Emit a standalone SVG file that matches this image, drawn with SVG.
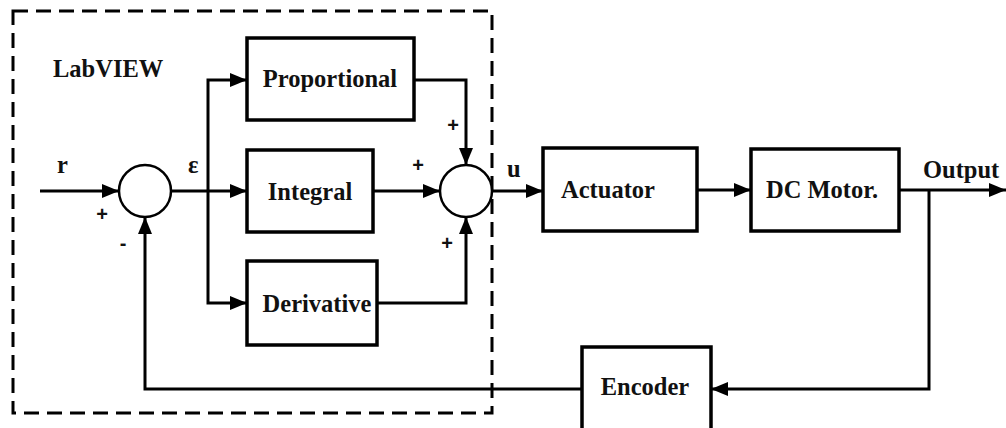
<svg xmlns="http://www.w3.org/2000/svg" width="1006" height="428" viewBox="0 0 1006 428">
<style>
.box{fill:#fff;stroke:#000;stroke-width:3.5}
.sum{fill:#fff;stroke:#000;stroke-width:2.5}
.lbl{font-weight:bold;font-size:24.5px;fill:#111}
.sgn{font-weight:bold;font-size:20px;fill:#111;text-anchor:middle}
.wire{fill:none;stroke:#000;stroke-width:3}
.arr{marker-end:url(#ah)}
</style>
<defs>
<marker id="ah" markerUnits="userSpaceOnUse" markerWidth="17" markerHeight="14" refX="17" refY="7" orient="auto">
<path d="M0,0 L17,7 L0,14 z" fill="#000"/>
</marker>
</defs>
<rect width="1006" height="428" fill="#fff"/>
<g id="labview-boundary">
<rect x="13" y="11" width="479" height="402" fill="none" stroke="#000" stroke-width="3" stroke-dasharray="15,8"/>
<text class="lbl" font-family="Liberation Serif, Times New Roman, serif" x="53" y="77">LabVIEW</text>
</g>
<g id="connectors">
<path class="wire arr" d="M40,191 H119"/>
<path class="wire arr" d="M171,191 H247"/>
<path class="wire arr" d="M208,191 V80 H247"/>
<path class="wire arr" d="M208,191 V303 H247"/>
<path class="wire arr" d="M414,80 H466 V165"/>
<path class="wire arr" d="M373,191 H440"/>
<path class="wire arr" d="M377,303 H466 V217"/>
<path class="wire arr" d="M492,191 H543"/>
<path class="wire arr" d="M697,190 H751"/>
<path class="wire arr" d="M899,190 H1006"/>
<path class="wire arr" d="M929,190 V389 H711"/>
<path class="wire arr" d="M582,389 H145 V217"/>
<g font-family="Liberation Serif, Times New Roman, serif">
<text class="lbl" x="57" y="173">r</text>
<text class="lbl" x="188" y="173">ε</text>
<text class="lbl" x="507" y="177">u</text>
<text class="lbl" x="923" y="178">Output</text>
</g>
<g font-family="Liberation Sans, Arial, sans-serif">
<text class="sgn" x="102" y="221">+</text>
<text class="sgn" x="123" y="250">-</text>
<text class="sgn" x="453" y="132">+</text>
<text class="sgn" x="418" y="172">+</text>
<text class="sgn" x="447" y="250">+</text>
</g>
</g>
<g font-family="Liberation Serif, Times New Roman, serif">
<g id="sum1"><circle class="sum" cx="145" cy="191" r="26"/></g>
<g id="sum2"><circle class="sum" cx="466" cy="191" r="26"/></g>
<g id="proportional">
<rect class="box" x="247" y="38" width="167" height="82"/>
<text class="lbl" x="330" y="87" text-anchor="middle">Proportional</text>
</g>
<g id="integral">
<rect class="box" x="247" y="150" width="126" height="82"/>
<text class="lbl" x="310" y="200" text-anchor="middle">Integral</text>
</g>
<g id="derivative">
<rect class="box" x="247" y="261" width="130" height="84"/>
<text class="lbl" x="317" y="312" text-anchor="middle">Derivative</text>
</g>
<g id="actuator">
<rect class="box" x="543" y="148" width="154" height="83"/>
<text class="lbl" x="608" y="198" text-anchor="middle">Actuator</text>
</g>
<g id="dc-motor">
<rect class="box" x="751" y="149" width="148" height="82"/>
<text class="lbl" x="822" y="198" text-anchor="middle">DC Motor.</text>
</g>
<g id="encoder">
<rect class="box" x="582" y="347" width="129" height="90"/>
<text class="lbl" x="645" y="395" text-anchor="middle">Encoder</text>
</g>
</g>
</svg>
